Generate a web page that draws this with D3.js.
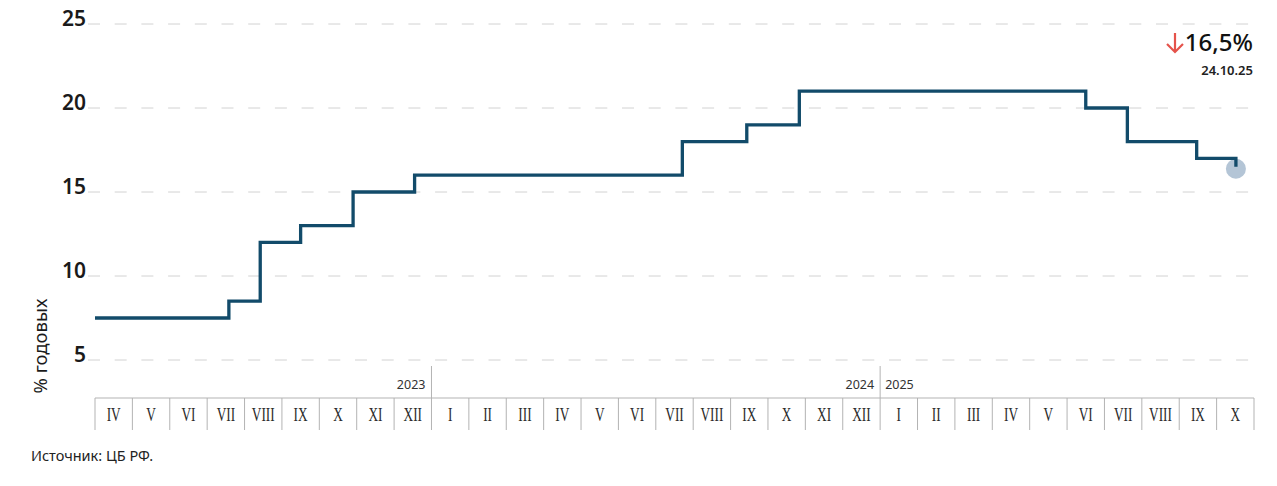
<!DOCTYPE html>
<html><head><meta charset="utf-8">
<script src="https://cdn.jsdelivr.net/npm/d3@7"></script>
<style>
html,body{margin:0;padding:0;background:#fff;}
svg{display:block;}
</style></head>
<body>
<svg id="chart" width="1277" height="486"></svg>
<script>
// ---- data ----
const monthKeys = ["2023-04","2023-05","2023-06","2023-07","2023-08","2023-09","2023-10","2023-11","2023-12",
  "2024-01","2024-02","2024-03","2024-04","2024-05","2024-06","2024-07","2024-08","2024-09","2024-10","2024-11","2024-12",
  "2025-01","2025-02","2025-03","2025-04","2025-05","2025-06","2025-07","2025-08","2025-09","2025-10"];
const monthLabels = ["IV","V","VI","VII","VIII","IX","X","XI","XII",
  "I","II","III","IV","V","VI","VII","VIII","IX","X","XI","XII",
  "I","II","III","IV","V","VI","VII","VIII","IX","X"];
const years = ["2023","2024","2025"];
const yearFirstMonth = ["2023-04","2024-01","2025-01"];
const yearLastMonth = ["2023-12","2024-12","2025-10"];
const changeDates = ["2023-04-01","2023-07-19","2023-08-14","2023-09-16","2023-10-29","2023-12-18",
  "2024-07-23","2024-09-14","2024-10-27","2025-06-16","2025-07-20","2025-09-15","2025-10-17"];
const rates = [7.5,8.5,12,13,15,16,18,19,21,20,18,17,16.5];
const yTicks = [5,10,15,20,25];
const lastValueLabel = "16,5%";
const lastDateLabel = "24.10.25";
const yTitle = "% годовых";
const sourceText = "Источник: ЦБ РФ.";

// ---- layout ----
const svg = d3.select("#chart");
const x = d3.scaleBand().domain(monthKeys).range([95, 1254]).paddingInner(0).paddingOuter(0);
const y = d3.scaleLinear().domain([5, 25]).range([360, 24]);
const parse = d3.timeParse("%Y-%m-%d");
function xDate(s) {
  const d = parse(s);
  const key = d3.timeFormat("%Y-%m")(d);
  const start = d3.timeMonth.floor(d), end = d3.timeMonth.offset(start, 1);
  const frac = (d - start) / (end - start);
  return x(key) + frac * x.bandwidth();
}
const data = changeDates.map((d, i) => ({d, v: rates[i]}));

// grid
const grid = svg.append("g");
yTicks.forEach(t => {
  grid.append("line").attr("x1", 88).attr("x2", 1256).attr("y1", y(t)).attr("y2", y(t))
    .attr("stroke", "#d2d2d2").attr("stroke-width", 1).attr("stroke-dasharray", "12,14.7");
});

// y axis labels
const yAxis = d3.axisLeft(y).tickValues(yTicks).tickSize(0).tickPadding(0).tickFormat(d3.format("d"));
const ya = svg.append("g").attr("transform", "translate(86,0)").call(yAxis);
ya.select(".domain").remove();
ya.selectAll("text").attr("dy", "0").attr("y", 1)
  .style("font-family", "'Noto Sans', sans-serif").style("font-size", "21px").style("font-weight", "600")
  .attr("fill", "#1a1a1a").attr("text-anchor", "end");

// y title
svg.append("text").attr("transform", "translate(47,346) rotate(-90)")
  .attr("text-anchor", "middle").style("font-family", "'Noto Sans', sans-serif").style("font-size", "18.5px")
  .attr("fill", "#1a1a1a").text(yTitle);

// x axis box
const xa = svg.append("g");
xa.append("line").attr("x1", x.range()[0]).attr("x2", x.range()[1]).attr("y1", 398).attr("y2", 398)
  .attr("stroke", "#b3b3b3").attr("stroke-width", 1);
monthKeys.forEach((k, i) => {
  xa.append("line").attr("x1", x(k)).attr("x2", x(k)).attr("y1", 398).attr("y2", 430)
    .attr("stroke", "#b3b3b3").attr("stroke-width", 1);
  xa.append("text").attr("transform", `translate(${x(k) + x.bandwidth() / 2},421) scale(0.7,1)`)
    .attr("text-anchor", "middle").style("font-family", "'Liberation Serif', serif").style("font-size", "19px")
    .attr("fill", "#2a2a2a").text(monthLabels[i]);
});
xa.append("line").attr("x1", x.range()[1]).attr("x2", x.range()[1]).attr("y1", 398).attr("y2", 430)
  .attr("stroke", "#b3b3b3").attr("stroke-width", 1);

// year dividers & labels
[yearFirstMonth[1], yearFirstMonth[2]].forEach(k => {
  xa.append("line").attr("x1", x(k)).attr("x2", x(k)).attr("y1", 366).attr("y2", 398)
    .attr("stroke", "#b3b3b3").attr("stroke-width", 1);
});
years.forEach((yr, i) => {
  const isLast = i === years.length - 1;
  const xpos = isLast ? x(yearFirstMonth[i]) + 5 : x(yearLastMonth[i]) + x.bandwidth() - 6;
  xa.append("text").attr("x", xpos).attr("y", 389).attr("text-anchor", isLast ? "start" : "end")
    .style("font-family", "'Noto Sans', sans-serif").style("font-size", "12.5px").attr("fill", "#333")
    .text(yr);
});

// end dot
const last = data[data.length - 1];
svg.append("circle").attr("cx", xDate(last.d)).attr("cy", y(last.v) + 2).attr("r", 10)
  .attr("fill", "#b4c5d6");

// line
const line = d3.line().x(d => xDate(d.d)).y(d => y(d.v)).curve(d3.curveStepAfter);
svg.append("path").datum(data).attr("d", line).attr("fill", "none")
  .attr("stroke", "#124b6a").attr("stroke-width", 3.3).attr("stroke-linejoin", "miter").attr("stroke-linecap", "butt");

// last value annotation
svg.append("text").attr("x", 1253).attr("y", 51).attr("text-anchor", "end")
  .style("font-family", "'Noto Sans', sans-serif").style("font-size", "24px").style("font-weight", "500")
  .attr("fill", "#111").text(lastValueLabel);
svg.append("text").attr("x", 1253).attr("y", 75).attr("text-anchor", "end")
  .style("font-family", "'Noto Sans', sans-serif").style("font-size", "13px").style("font-weight", "600")
  .attr("fill", "#222").text(lastDateLabel);
// red down arrow
svg.append("path").attr("d", "M1175,33 L1175,52 M1167,44 L1175,52 L1183,44")
  .attr("fill", "none").attr("stroke", "#e5534b").attr("stroke-width", 2.2);

// source
svg.append("text").attr("x", 31).attr("y", 461)
  .style("font-family", "'Noto Sans', sans-serif").style("font-size", "14.5px")
  .attr("fill", "#222").text(sourceText);
</script>
</body></html>
